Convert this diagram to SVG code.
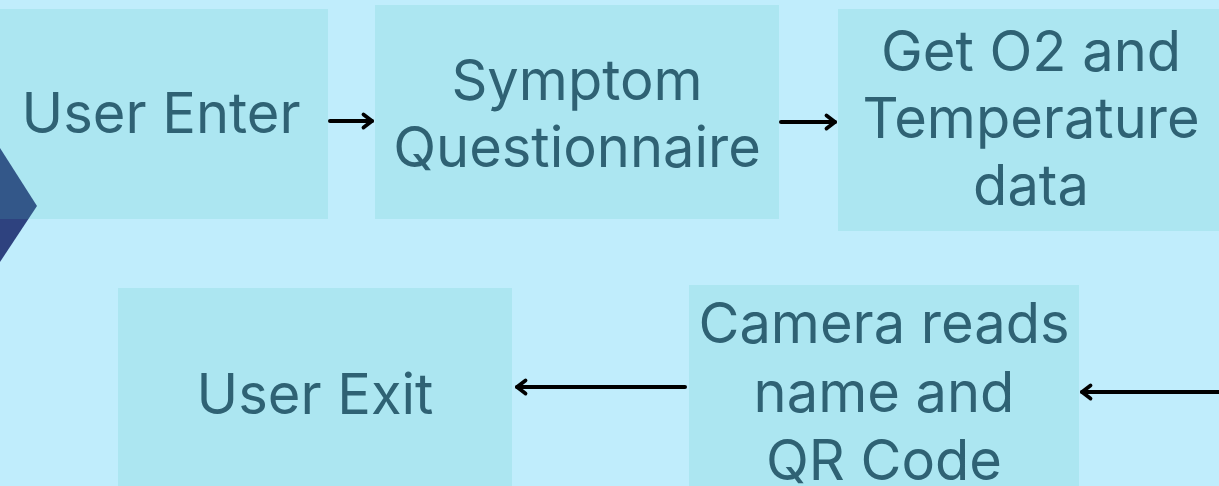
<svg xmlns="http://www.w3.org/2000/svg" width="1219" height="486" viewBox="0 0 1219 486">
<defs>
<style>
.box{fill:#4fc6be;fill-opacity:0.17}
.lbl{font-family:Inter,"Noto Sans","Liberation Sans",sans-serif;font-size:56px;fill:#2f6274;text-anchor:middle}
.conn{stroke:#000;stroke-width:4;fill:none;stroke-linecap:round}
</style>
<marker id="ah" viewBox="0 0 20 20" refX="15" refY="10" markerWidth="20" markerHeight="20" orient="auto-start-reverse" markerUnits="userSpaceOnUse">
<path d="M6.5,3.5 L15,10 L6.5,16.5" fill="none" stroke="#000" stroke-width="3.8" stroke-linecap="round" stroke-linejoin="round"/>
</marker>
</defs>
<rect width="1219" height="486" fill="#c0edfc"/>
<polygon points="0,148 37,206 0,262" fill="#2e427f"/>
<g id="user-enter">
<rect class="box" x="0" y="9" width="328" height="210"/>
<text class="lbl" x="161" y="133">User Enter</text>
</g>
<g id="symptom-questionnaire">
<rect class="box" x="375" y="5" width="404" height="214"/>
<text class="lbl" x="577" y="100">Symptom</text>
<text class="lbl" x="577" y="167">Questionnaire</text>
</g>
<g id="get-o2">
<rect class="box" x="838" y="9" width="390" height="222"/>
<text class="lbl" x="1031" y="71">Get O2 and</text>
<text class="lbl" x="1031" y="138">Temperature</text>
<text class="lbl" x="1031" y="205">data</text>
</g>
<g id="camera">
<rect class="box" x="689" y="285" width="390" height="210"/>
<text class="lbl" x="884" y="343">Camera reads</text>
<text class="lbl" x="884" y="412">name and</text>
<text class="lbl" x="884" y="480">QR Code</text>
</g>
<g id="user-exit">
<rect class="box" x="118" y="288" width="394" height="210"/>
<text class="lbl" x="315" y="414">User Exit</text>
</g>
<g id="connectors">
<line class="conn" x1="330" y1="121" x2="372" y2="121" marker-end="url(#ah)"/>
<line class="conn" x1="781" y1="122" x2="835" y2="122" marker-end="url(#ah)"/>
<line class="conn" x1="1221" y1="392" x2="1082" y2="392" marker-end="url(#ah)"/>
<line class="conn" x1="685" y1="387" x2="517" y2="387" marker-end="url(#ah)"/>
</g>
</svg>
